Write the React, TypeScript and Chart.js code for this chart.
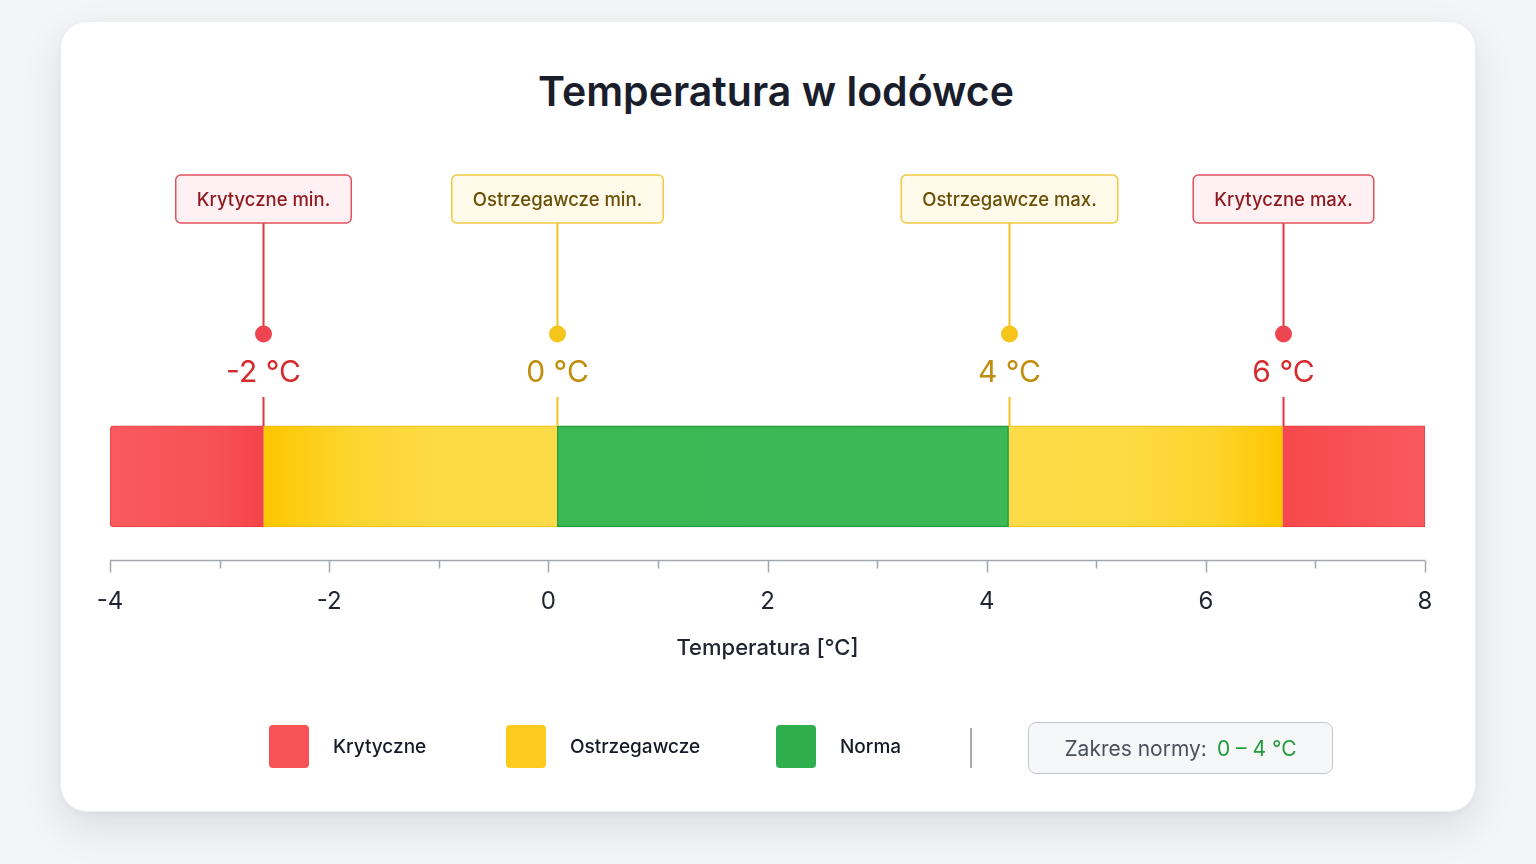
import React, { useEffect, useRef } from "react";
import { Chart, registerables } from "chart.js";

Chart.register(...registerables);

// ---- data ----
const zoneNames = ["Krytyczne", "Ostrzegawcze", "Norma", "Ostrzegawcze", "Krytyczne"];
const zoneStarts = [-4, -2.6, 0.08, 4.2, 6.7];
const zoneEnds = [-2.6, 0.08, 4.2, 6.7, 8];
const zoneKinds = ["crit", "warn", "ok", "warn", "crit"];

const thresholdNames = ["Krytyczne min.", "Ostrzegawcze min.", "Ostrzegawcze max.", "Krytyczne max."];
const thresholdValues = [-2, 0, 4, 6];
const thresholdPositions = [-2.6, 0.08, 4.2, 6.7];
const thresholdKinds = ["crit", "warn", "warn", "crit"];

const axisMin = -4;
const axisMax = 8;
const axisTitle = "Temperatura [°C]";
const chartTitle = "Temperatura w lodówce";
const legendNames = ["Krytyczne", "Ostrzegawcze", "Norma"];
const legendColors = ["#f75256", "#fdca1e", "#2fae4e"];
const normRangeText = "0 – 4 °C";

const FONT = "Inter, 'Noto Sans', sans-serif";

const palette: Record<string, any> = {
  crit: {
    line: "#e0353f",
    dot: "#ee4650",
    boxBg: "#fff1f3",
    boxBorder: "#e0525c",
    boxText: "#8e1a1f",
    value: "#d52b2f",
  },
  warn: {
    line: "#f3c21e",
    dot: "#f6c51c",
    boxBg: "#fffaea",
    boxBorder: "#f1c944",
    boxText: "#6a4f06",
    value: "#c08d0c",
  },
};

function zoneFill(chart: any, i: number) {
  const area = chart.chartArea;
  const kind = zoneKinds[i];
  const flat = kind === "crit" ? "#f75256" : kind === "warn" ? "#fdd63a" : "#3cb855";
  if (!area) return flat;
  const xs = chart.scales.x;
  const x0 = xs.getPixelForValue(zoneStarts[i]);
  const x1 = xs.getPixelForValue(zoneEnds[i]);
  const g = chart.ctx.createLinearGradient(x0, 0, x1, 0);
  if (kind === "crit") {
    if (i === 0) {
      g.addColorStop(0, "#f95a5e");
      g.addColorStop(0.7, "#f75155");
      g.addColorStop(1, "#f4434a");
    } else {
      g.addColorStop(0, "#f6484c");
      g.addColorStop(1, "#f95a5f");
    }
  } else if (kind === "warn") {
    if (i === 1) {
      g.addColorStop(0, "#fdc600");
      g.addColorStop(0.3, "#fdd530");
      g.addColorStop(0.6, "#fddb44");
      g.addColorStop(1, "#fddb48");
    } else {
      g.addColorStop(0, "#fddb48");
      g.addColorStop(0.4, "#fddb44");
      g.addColorStop(0.75, "#fdd42c");
      g.addColorStop(1, "#fdc600");
    }
  } else {
    g.addColorStop(0, "#3bb854");
    g.addColorStop(1, "#3cb956");
  }
  return g;
}

const overlayPlugin = {
  id: "overlay",
  afterDatasetsDraw(chart: any) {
    const { ctx, chartArea } = chart;
    const xs = chart.scales.x;
    const el = chart.getDatasetMeta(0).data[0];
    const top = Math.round(el.y - el.height / 2);
    ctx.save();
    // axis line + ticks at the bottom of the chart area
    const lineY = Math.round(chartArea.bottom) + 0.5;
    ctx.strokeStyle = "#a3a7ae";
    ctx.lineWidth = 1.5;
    ctx.beginPath();
    ctx.moveTo(xs.getPixelForValue(axisMin), lineY);
    ctx.lineTo(xs.getPixelForValue(axisMax), lineY);
    ctx.stroke();
    xs.ticks.forEach((t: any) => {
      const px = Math.round(xs.getPixelForValue(t.value)) + 0.5;
      const major = Math.round(t.value) % 2 === 0;
      ctx.beginPath();
      ctx.moveTo(px, lineY);
      ctx.lineTo(px, lineY + (major ? 12 : 8));
      ctx.stroke();
    });

    // threshold annotations
    thresholdPositions.forEach((pos, i) => {
      const p = palette[thresholdKinds[i]];
      const px = Math.round(xs.getPixelForValue(pos)) + 0.5;
      ctx.strokeStyle = p.line;
      ctx.lineWidth = 2;
      ctx.beginPath();
      ctx.moveTo(px, top - 29);
      ctx.lineTo(px, top);
      ctx.stroke();
      ctx.beginPath();
      ctx.moveTo(px, top - 203);
      ctx.lineTo(px, top - 92);
      ctx.stroke();
      ctx.fillStyle = p.dot;
      ctx.beginPath();
      ctx.arc(px, top - 92, 8.5, 0, Math.PI * 2);
      ctx.fill();
      ctx.fillStyle = p.value;
      ctx.font = `400 30px ${FONT}`;
      ctx.textAlign = "center";
      ctx.textBaseline = "middle";
      ctx.fillText(`${thresholdValues[i]} °C`, px, top - 53);
      ctx.font = `500 18.5px ${FONT}`;
      const tw = ctx.measureText(thresholdNames[i]).width;
      const bw = tw + 42;
      const bh = 48;
      const bx = px - bw / 2;
      const by = top - 251;
      ctx.fillStyle = p.boxBg;
      ctx.strokeStyle = p.boxBorder;
      ctx.lineWidth = 1.5;
      ctx.beginPath();
      ctx.roundRect(bx, by, bw, bh, 5);
      ctx.fill();
      ctx.stroke();
      ctx.fillStyle = p.boxText;
      ctx.fillText(thresholdNames[i], px, by + bh / 2 + 1);
    });
    ctx.restore();
  },
};

function ChartCanvas() {
  const ref = useRef<HTMLCanvasElement>(null);
  useEffect(() => {
    if (!ref.current) return;
    const datasets = zoneNames.map((name, i) => {
      const kind = zoneKinds[i];
      return {
        label: name,
        data: [[zoneStarts[i], zoneEnds[i]]],
        backgroundColor: (c: any) => zoneFill(c.chart, i),
        borderColor: kind === "crit" ? "#e23c42" : kind === "warn" ? "#f2bb0a" : "#1f9b39",
        borderWidth:
          kind === "warn"
            ? { top: 1, bottom: 1, left: 0, right: 0 }
            : kind === "ok"
            ? 1.5
            : 1,
        borderSkipped: false,
        borderRadius: i === 0 ? { topLeft: 4, bottomLeft: 4, topRight: 0, bottomRight: 0 } : 0,
        grouped: false,
        barThickness: 101,
      };
    });
    const chart = new Chart(ref.current, {
      type: "bar",
      data: { labels: ["Temperatura"], datasets: datasets as any },
      options: {
        indexAxis: "y",
        animation: false,
        responsive: false,
        events: [],
        layout: { padding: { left: 49, right: 50, top: 371, bottom: 145 } },
        plugins: { legend: { display: false }, tooltip: { enabled: false }, title: { display: false } },
        scales: {
          y: { type: "category", display: false },
          x: {
            type: "linear",
            min: axisMin,
            max: axisMax,
            grid: { display: false, drawTicks: false },
            border: { display: false },
            ticks: {
              stepSize: 1,
              padding: 28,
              color: "#1f2430",
              font: { family: FONT, size: 24 },
              callback: (v: any) => (Math.round(v) % 2 === 0 ? String(v) : ""),
              autoSkip: false,
              maxRotation: 0,
            },
            title: {
              display: true,
              text: axisTitle,
              color: "#1f2430",
              font: { family: FONT, size: 22, weight: "500" as any },
              padding: { top: -9, bottom: 4 },
            },
          },
        },
      },
      plugins: [overlayPlugin],
    });
    return () => chart.destroy();
  }, []);
  return (
    <canvas
      ref={ref}
      width={1414}
      height={789}
      style={{ position: "absolute", left: 0, top: 0, display: "block" }}
    />
  );
}

export default function App() {
  useEffect(() => {
    document.body.style.margin = "0";
  }, []);
  return (
    <div
      style={{
        position: "relative",
        width: 1536,
        height: 864,
        background: "#f4f5f7",
        overflow: "hidden",
        fontFamily: FONT,
      }}
    >
      <div
        style={{
          position: "absolute",
          left: 61,
          top: 22,
          width: 1414,
          height: 789,
          background: "#ffffff",
          borderRadius: 26,
          boxShadow:
            "0 0 0 1px #eceef1, 0 16px 40px rgba(30,40,60,0.12), 0 2px 6px rgba(30,40,60,0.05)",
        }}
      >
        <div
          style={{
            position: "absolute",
            left: 715,
            top: 70,
            transform: "translate(-50%, -50%)",
            fontSize: 41,
            fontWeight: 600,
            color: "#1a1e2c",
            whiteSpace: "nowrap",
            lineHeight: 1.2,
          }}
        >
          {chartTitle}
        </div>
        <ChartCanvas />
        {legendNames.map((name, i) => {
          const lefts = [208, 445, 715];
          return (
            <div
              key={name}
              style={{
                position: "absolute",
                left: lefts[i],
                top: 703,
                height: 43,
                display: "flex",
                alignItems: "center",
              }}
            >
              <div
                style={{
                  width: 40,
                  height: 43,
                  borderRadius: 4,
                  background: legendColors[i],
                }}
              />
              <span
                style={{
                  marginLeft: 24,
                  fontSize: 19,
                  fontWeight: 500,
                  color: "#151a26",
                  whiteSpace: "nowrap",
                }}
              >
                {name}
              </span>
            </div>
          );
        })}
        <div
          style={{
            position: "absolute",
            left: 909,
            top: 706,
            width: 2,
            height: 40,
            background: "#a5a9b0",
          }}
        />
        <div
          style={{
            position: "absolute",
            left: 967,
            top: 700,
            width: 305,
            height: 52,
            boxSizing: "border-box",
            border: "1.5px solid #c4c8ce",
            borderRadius: 8,
            background: "#f6f7f9",
            display: "flex",
            alignItems: "center",
            justifyContent: "center",
            fontSize: 21,
            whiteSpace: "nowrap",
          }}
        >
          <span style={{ color: "#4a505c" }}>Zakres normy:</span>
          <span style={{ color: "#1f9d3a", marginLeft: 10 }}>{normRangeText}</span>
        </div>
      </div>
    </div>
  );
}
